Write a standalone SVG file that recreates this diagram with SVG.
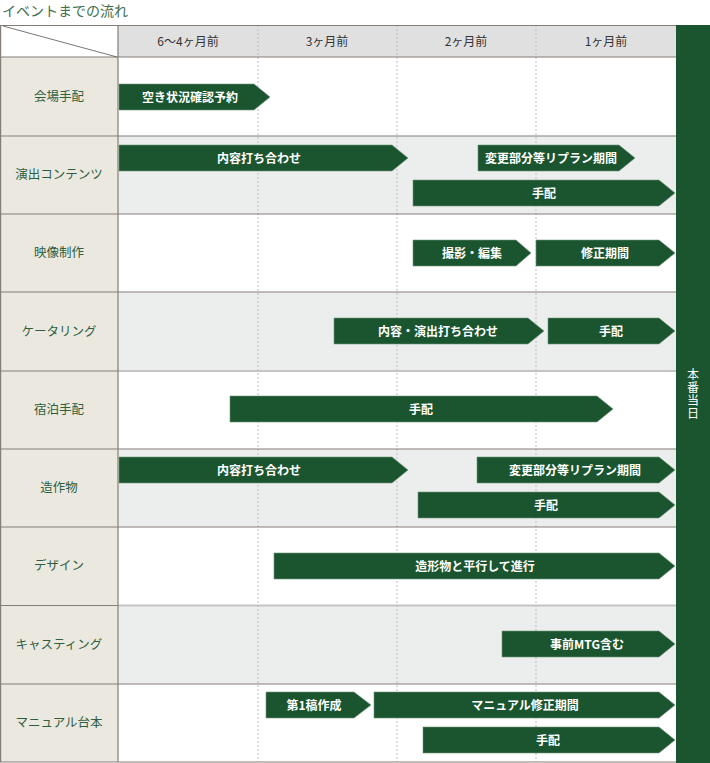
<svg xmlns="http://www.w3.org/2000/svg" width="710" height="763" viewBox="0 0 710 763">
<style>
.ttl{font-family:"Noto Sans CJK JP","Noto Sans",sans-serif;font-size:14px;fill:#3d6e4c}
.hd{font-family:"Noto Sans CJK JP","Noto Sans",sans-serif;font-size:12px;fill:#333;text-anchor:middle}
.lb{font-family:"Noto Sans CJK JP","Noto Sans",sans-serif;font-size:12.5px;fill:#2e5e3e;text-anchor:middle}
.bt{font-family:"Noto Sans CJK JP","Noto Sans",sans-serif;font-size:12px;font-weight:bold;fill:#fff;text-anchor:middle}
.vt{font-family:"Noto Sans CJK JP","Noto Sans",sans-serif;font-size:12px;fill:#fff;writing-mode:vertical-rl;letter-spacing:1px}
.bar{fill:#1a552f;stroke:#6f9479;stroke-width:0.6}
.dk{stroke:#857d78;stroke-width:1.2}
.lt{stroke:#c4c4c4;stroke-width:2}
.dot{stroke:#bdbdbd;stroke-width:1;stroke-dasharray:2 2}
</style>
<rect x="0" y="0" width="710" height="763" fill="#fff"/>
<text class="ttl" x="2" y="16">イベントまでの流れ</text>

<g id="grid">
<rect x="118" y="25" width="558" height="32" fill="#e0e0e0"/>
<rect x="0" y="57" width="118" height="705" fill="#ebe8e0"/>
<rect x="118" y="136" width="558" height="78" fill="#eceeed"/>
<rect x="118" y="292" width="558" height="79" fill="#eceeed"/>
<rect x="118" y="449" width="558" height="78" fill="#eceeed"/>
<rect x="118" y="605" width="558" height="79" fill="#eceeed"/>
<line class="dot" x1="258" y1="25" x2="258" y2="762"/>
<line class="dot" x1="397" y1="25" x2="397" y2="762"/>
<line class="dot" x1="536" y1="25" x2="536" y2="762"/>
<line class="dk" x1="0" y1="25.5" x2="676" y2="25.5"/>
<line class="dk" x1="0" y1="57" x2="676" y2="57"/>
<line class="dk" x1="0" y1="136" x2="676" y2="136"/>
<line class="dk" x1="0" y1="214" x2="676" y2="214"/>
<line class="dk" x1="0" y1="292" x2="676" y2="292"/>
<line class="dk" x1="0" y1="371" x2="118" y2="371"/>
<line class="lt" x1="118" y1="371" x2="676" y2="371"/>
<line class="dk" x1="0" y1="449" x2="676" y2="449"/>
<line class="dk" x1="0" y1="527" x2="676" y2="527"/>
<line class="dk" x1="0" y1="605.5" x2="118" y2="605.5"/>
<line class="lt" x1="118" y1="605.5" x2="676" y2="605.5"/>
<line class="dk" x1="0" y1="684" x2="676" y2="684"/>
<line class="dk" x1="0" y1="762" x2="676" y2="762"/>
<line class="dk" x1="0.6" y1="25" x2="0.6" y2="762"/>
<line class="dk" x1="118" y1="25" x2="118" y2="762"/>
<line x1="3" y1="26" x2="117" y2="57" stroke="#555" stroke-width="0.8"/>
</g>

<g id="header">
<text class="hd" x="188" y="46">6〜4ヶ月前</text>
<text class="hd" x="327" y="46">3ヶ月前</text>
<text class="hd" x="466" y="46">2ヶ月前</text>
<text class="hd" x="606" y="46">1ヶ月前</text>
</g>

<g id="labels">
<text class="lb" x="59" y="101">会場手配</text>
<text class="lb" x="59" y="179">演出コンテンツ</text>
<text class="lb" x="59" y="257">映像制作</text>
<text class="lb" x="59" y="336">ケータリング</text>
<text class="lb" x="59" y="414">宿泊手配</text>
<text class="lb" x="59" y="492">造作物</text>
<text class="lb" x="59" y="570">デザイン</text>
<text class="lb" x="59" y="649">キャスティング</text>
<text class="lb" x="59" y="727">マニュアル台本</text>
</g>

<g id="event-day">
<rect x="676" y="25" width="34" height="738" fill="#1a552f"/>
<text class="vt" x="693" y="368">本番当日</text>
</g>

<g id="bars">
<polygon class="bar" points="119,84 254,84 270,97 254,110 119,110"/>
<text class="bt" x="190" y="101.5">空き状況確認予約</text>

<polygon class="bar" points="119,145 392,145 408,158 392,171 119,171"/>
<text class="bt" x="259" y="162.5">内容打ち合わせ</text>
<polygon class="bar" points="478,145 619,145 635,158 619,171 478,171"/>
<text class="bt" x="551" y="162.5">変更部分等リプラン期間</text>
<polygon class="bar" points="413,180 659,180 675,193 659,206 413,206"/>
<text class="bt" x="544" y="197.5">手配</text>

<polygon class="bar" points="413,240 516,240 531,253 516,266 413,266"/>
<text class="bt" x="472" y="257.5">撮影・編集</text>
<polygon class="bar" points="536,240 659,240 675,253 659,266 536,266"/>
<text class="bt" x="605" y="257.5">修正期間</text>

<polygon class="bar" points="334,318 528,318 544,331 528,344 334,344"/>
<text class="bt" x="438" y="335.5">内容・演出打ち合わせ</text>
<polygon class="bar" points="548,318 659,318 675,331 659,344 548,344"/>
<text class="bt" x="611" y="335.5">手配</text>

<polygon class="bar" points="230,396 597,396 613,409 597,422 230,422"/>
<text class="bt" x="421" y="413.5">手配</text>

<polygon class="bar" points="119,457 392,457 408,470 392,483 119,483"/>
<text class="bt" x="259" y="474.5">内容打ち合わせ</text>
<polygon class="bar" points="477,457 659,457 675,470 659,483 477,483"/>
<text class="bt" x="575" y="474.5">変更部分等リプラン期間</text>
<polygon class="bar" points="418,492 659,492 675,505 659,518 418,518"/>
<text class="bt" x="546" y="509.5">手配</text>

<polygon class="bar" points="274,553 659,553 675,566 659,579 274,579"/>
<text class="bt" x="475" y="570.5">造形物と平行して進行</text>

<polygon class="bar" points="502,631 659,631 675,644 659,657 502,657"/>
<text class="bt" x="587" y="648.5">事前MTG含む</text>

<polygon class="bar" points="266,692 354,692 371,705 354,718 266,718"/>
<text class="bt" x="314" y="709.5">第1稿作成</text>
<polygon class="bar" points="374,692 659,692 675,705 659,718 374,718"/>
<text class="bt" x="525" y="709.5">マニュアル修正期間</text>
<polygon class="bar" points="423,727 659,727 675,740 659,753 423,753"/>
<text class="bt" x="548" y="744.5">手配</text>
</g>
</svg>
